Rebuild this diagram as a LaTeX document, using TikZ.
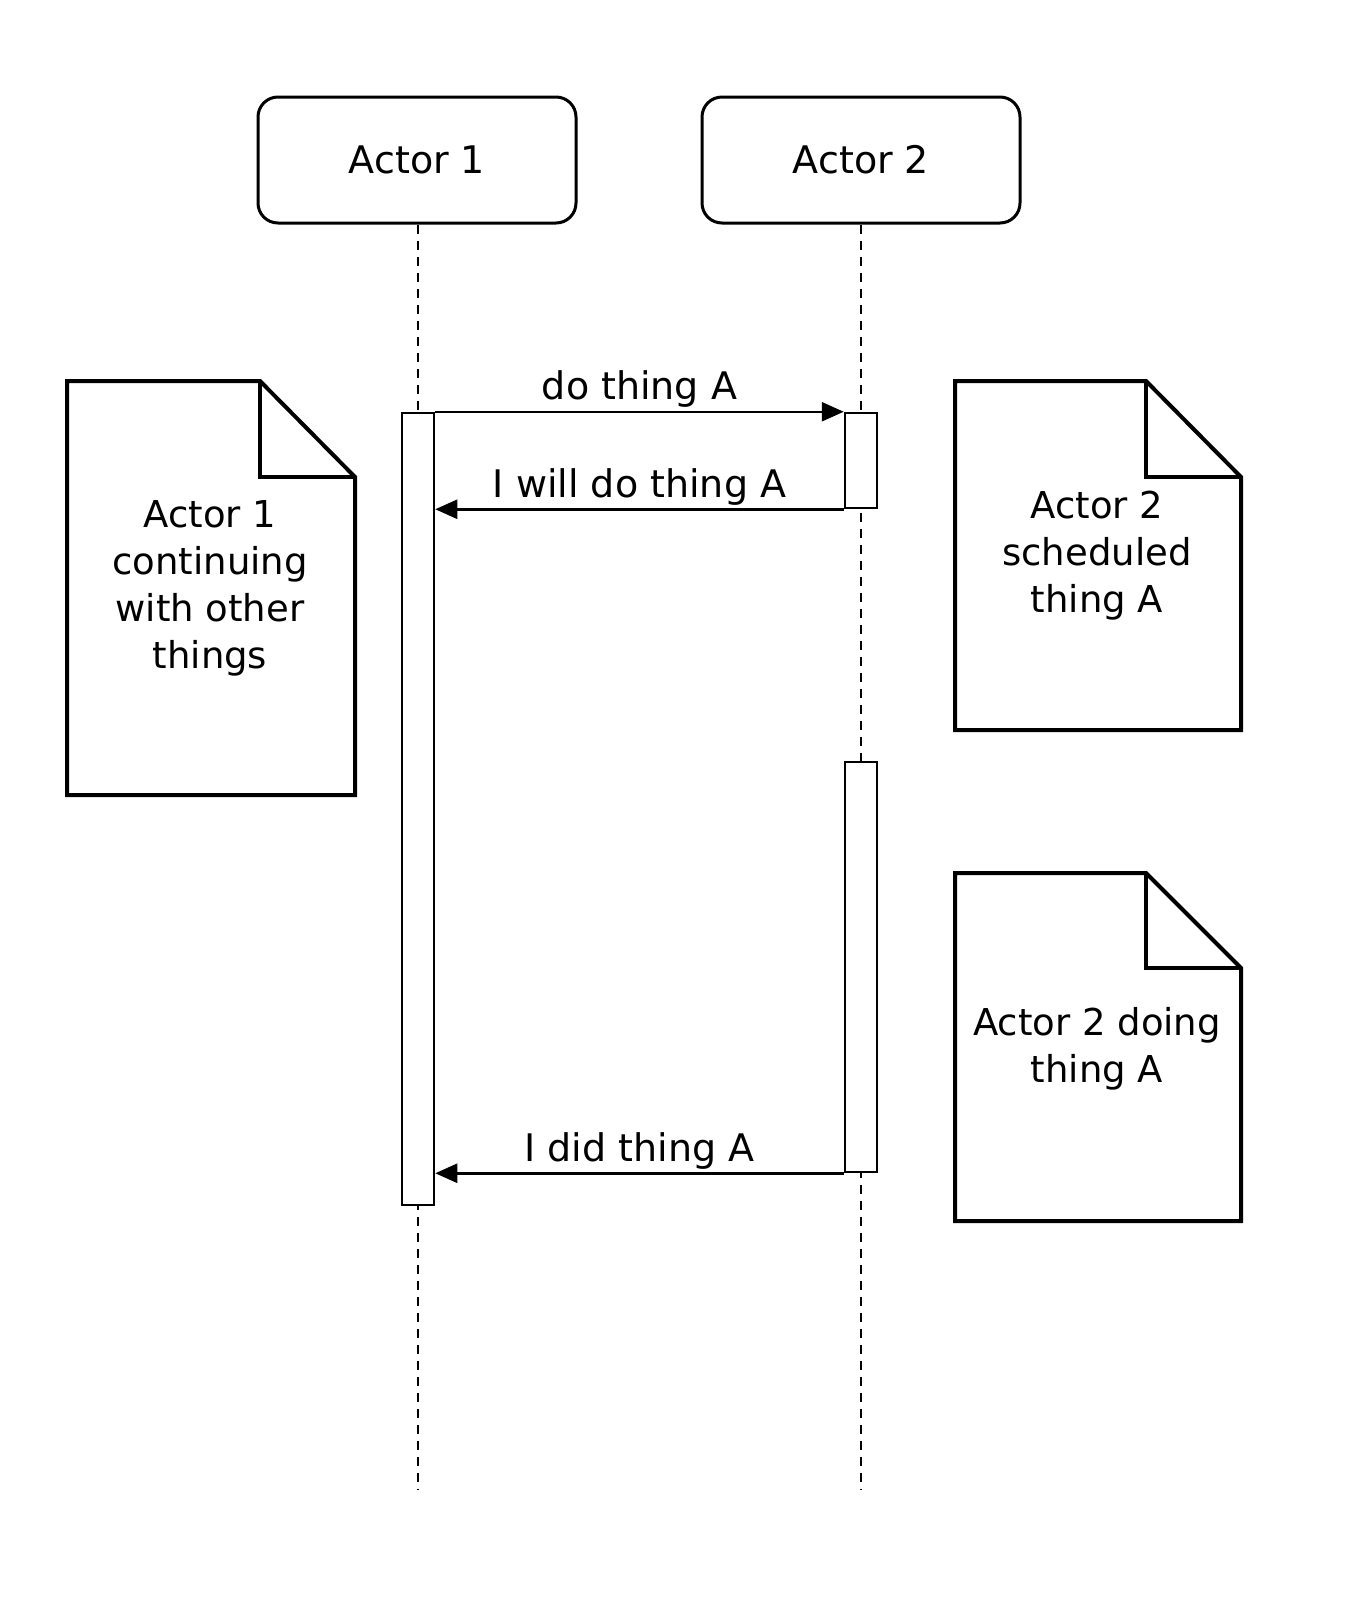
\documentclass[tikz,border=0pt]{standalone}
\usepackage{fontspec}
\setmainfont{DejaVu Sans}
\usetikzlibrary{arrows.meta}
\tikzset{
  actorbox/.style={draw, line width=3pt, rounded corners=20pt, minimum width=318pt, minimum height=126pt, inner sep=0pt, font=\fontsize{38}{46}\selectfont},
  lifeline/.style={line width=2.8pt, dash pattern=on 9pt off 7pt},
  actbar/.style={draw, fill=white, line width=2.5pt, minimum width=32pt, inner sep=0pt},
  msg/.style={line width=2.5pt, -{Triangle[length=22pt,width=19pt]}},
  msglabel/.style={font=\fontsize{38}{44}\selectfont, inner sep=3pt},
  notebox/.style={line width=4pt, line join=miter},
  notetext/.style={align=center, font=\fontsize{37}{47}\selectfont, inner sep=0pt}
}
\begin{document}
\begin{tikzpicture}[x=1pt,y=-1pt]
\useasboundingbox (0,0) rectangle (1346,1615);
% actors
\node[actorbox] (a1) at (417,160) {Actor 1};
\node[actorbox] (a2) at (861,160) {Actor 2};
\coordinate (l1end) at (418,1490);
\coordinate (l2end) at (861,1490);
\draw[lifeline] (a1.south -| l1end) -- (l1end);
\draw[lifeline] (a2.south -| l2end) -- (l2end);
% activation bars
\node[actbar, minimum height=792pt] (b1) at (418,809) {};
\node[actbar, minimum height=95pt] (b2a) at (861,460.5) {};
\node[actbar, minimum height=410pt] (b2b) at (861,967) {};
% messages
\draw[msg] (b1.north east) -- node[msglabel, above] (m1) {do thing A} (b2a.north west);
\draw[msg] (b2a.south west) -- node[msglabel, above] (m2) {I will do thing A} (b1.east |- b2a.south west);
\draw[msg] (b2b.south west) -- node[msglabel, above] (m3) {I did thing A} (b1.east |- b2b.south west);
% note 1
\draw[notebox] (67,381) -- (260,381) -- (355,477) -- (355,795) -- (67,795) -- cycle;
\draw[notebox] (260,381) -- (260,477) -- (355,477);
\node[notetext] (n1) at (210,588) {Actor 1\\continuing\\with other\\things};
% note 2
\draw[notebox] (955,381) -- (1146,381) -- (1241,477) -- (1241,730) -- (955,730) -- cycle;
\draw[notebox] (1146,381) -- (1146,477) -- (1241,477);
\node[notetext] (n2) at (1097,556) {Actor 2\\scheduled\\thing A};
% note 3
\draw[notebox] (955,873) -- (1146,873) -- (1241,968) -- (1241,1221) -- (955,1221) -- cycle;
\draw[notebox] (1146,873) -- (1146,968) -- (1241,968);
\node[notetext] (n3) at (1097,1049) {Actor 2 doing\\thing A};
\end{tikzpicture}
\end{document}
